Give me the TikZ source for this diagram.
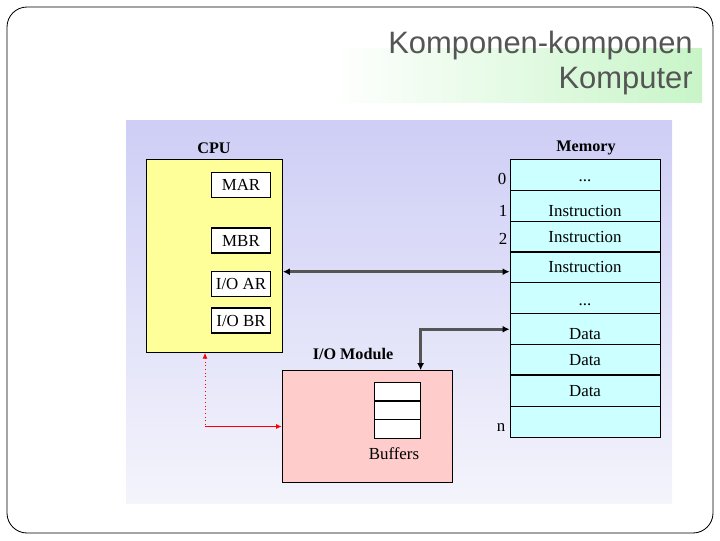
\documentclass[tikz,border=0pt]{standalone}
\usepackage{fontspec}
\setmainfont{Liberation Serif}
\newfontfamily\titlefont{Liberation Sans}
\usetikzlibrary{arrows.meta}

\definecolor{cpuyellow}{RGB}{255,255,153}
\definecolor{memcyan}{RGB}{204,255,255}
\definecolor{iopink}{RGB}{255,204,204}
\definecolor{bgtop}{RGB}{206,206,246}
\definecolor{bgbottom}{RGB}{244,244,252}
\definecolor{titlegray}{RGB}{85,85,85}
\definecolor{titlegreen}{RGB}{200,245,200}
\definecolor{busgray}{RGB}{85,85,85}

\begin{document}
\begin{tikzpicture}[x=0.025cm, y=-0.025cm]
\tikzstyle{txt} = [font=\fontsize{12}{14}\selectfont, inner sep=0pt]
\tikzstyle{heading} = [font=\bfseries\fontsize{11.5}{13}\selectfont, inner sep=0pt]
\tikzstyle{reg} = [rectangle, draw=black, fill=white, line width=0.8pt, minimum width=1.475cm, minimum height=0.625cm, inner sep=0pt, txt]
\tikzstyle{cell} = [rectangle, draw=black, fill=memcyan, line width=0.6pt, minimum width=3.75cm, minimum height=0.7725cm, inner sep=0pt, txt]
\tikzstyle{buf} = [rectangle, draw=black, fill=white, line width=0.8pt, minimum width=1.143cm, minimum height=0.467cm, inner sep=0pt]
\tikzstyle{bus} = [draw=busgray, line width=2.2pt, {Latex[length=5pt, width=5pt, black]}-{Latex[length=5pt, width=5pt, black]}]
\tikzstyle{ctrl} = [draw=red, line width=0.6pt]

\useasboundingbox (0,0) rectangle (720,540);
\draw[black, line width=0.6pt, rounded corners=0.5cm] (7,7) rectangle (713,533);

% title
\shade[left color=white, right color=titlegreen] (330,48) rectangle (702,102);
\node[anchor=base east, inner sep=0pt, text=titlegray, font=\titlefont\fontsize{22}{25}\selectfont] (title1) at (693,53.3) {Komponen-komponen};
\node[anchor=base east, inner sep=0pt, text=titlegray, font=\titlefont\fontsize{22}{25}\selectfont] (title2) at (693,88) {Komputer};

% background
\shade[top color=bgtop, bottom color=bgbottom] (126,120) rectangle (672,503);

% CPU
\node[rectangle, draw=black, fill=cpuyellow, line width=0.8pt, minimum width=3.39cm, minimum height=4.825cm] (cpu) at (214.5,255.8) {};
\node[heading] (cpulabel) at (214,148) {CPU};
\node[reg] (mar) at (241,185) {MAR};
\node[reg] (mbr) at (241,240.5) {MBR};
\node[reg] (ioar) at (241,284) {I/O AR};
\node[reg] (iobr) at (241,320.5) {I/O BR};

% memory
\node[heading] (memlabel) at (586,148) {Memory};
\node[cell] (m1) at (585,174.75) {\raisebox{-4.5pt}[\height][\depth]{...}};
\node[cell] (m2) at (585,205.65) {\raisebox{-3.5pt}[\height][\depth]{Instruction}};
\node[cell] (m3) at (585,236.55) {Instruction};
\node[cell] (m4) at (585,267.45) {Instruction};
\node[cell] (m5) at (585,298.35) {\raisebox{-4.5pt}[\height][\depth]{...}};
\node[cell] (m6) at (585,329.25) {\raisebox{-3.5pt}[\height][\depth]{Data}};
\node[cell] (m7) at (585,360.15) {Data};
\node[cell] (m8) at (585,391.05) {Data};
\node[cell] (m9) at (585,421.95) {};
\draw[line width=1.3pt] (m4.north west) -- (m4.north east);
\draw[line width=1.3pt] (m8.north west) -- (m8.north east);

\node[txt] (a0) at (502,179) {0};
\node[txt] (a1) at (503,211) {1};
\node[txt] (a2) at (503,239) {2};
\node[txt] (an) at (501,428) {n};

% I/O module
\node[rectangle, draw=black, fill=iopink, line width=0.8pt, minimum width=4.25cm, minimum height=2.79cm] (io) at (367.3,426.5) {};
\node[heading] (iolabel) at (353,354) {I/O Module};
\node[buf] (b1) at (397.2,391.6) {};
\node[buf] (b2) at (397.2,410.3) {};
\node[buf] (b3) at (397.2,429) {};
\node[txt] (buffers) at (394,454) {Buffers};

% connections
\coordinate (bus) at (400,271.7);
\coordinate (ctl) at (205,426.5);
\draw[bus] (cpu.east |- bus) -- (m4.west |- bus);
\draw[bus] (b3.east |- io.north) -- (b3.east |- m6.west) -- (m6.west);
\draw[ctrl, dotted, {Latex[length=4pt, width=3.5pt]}-] (cpu.south -| ctl) -- (ctl);
\draw[ctrl, -{Latex[length=4pt, width=3.5pt]}] (ctl) -- (io.west);
\end{tikzpicture}
\end{document}
